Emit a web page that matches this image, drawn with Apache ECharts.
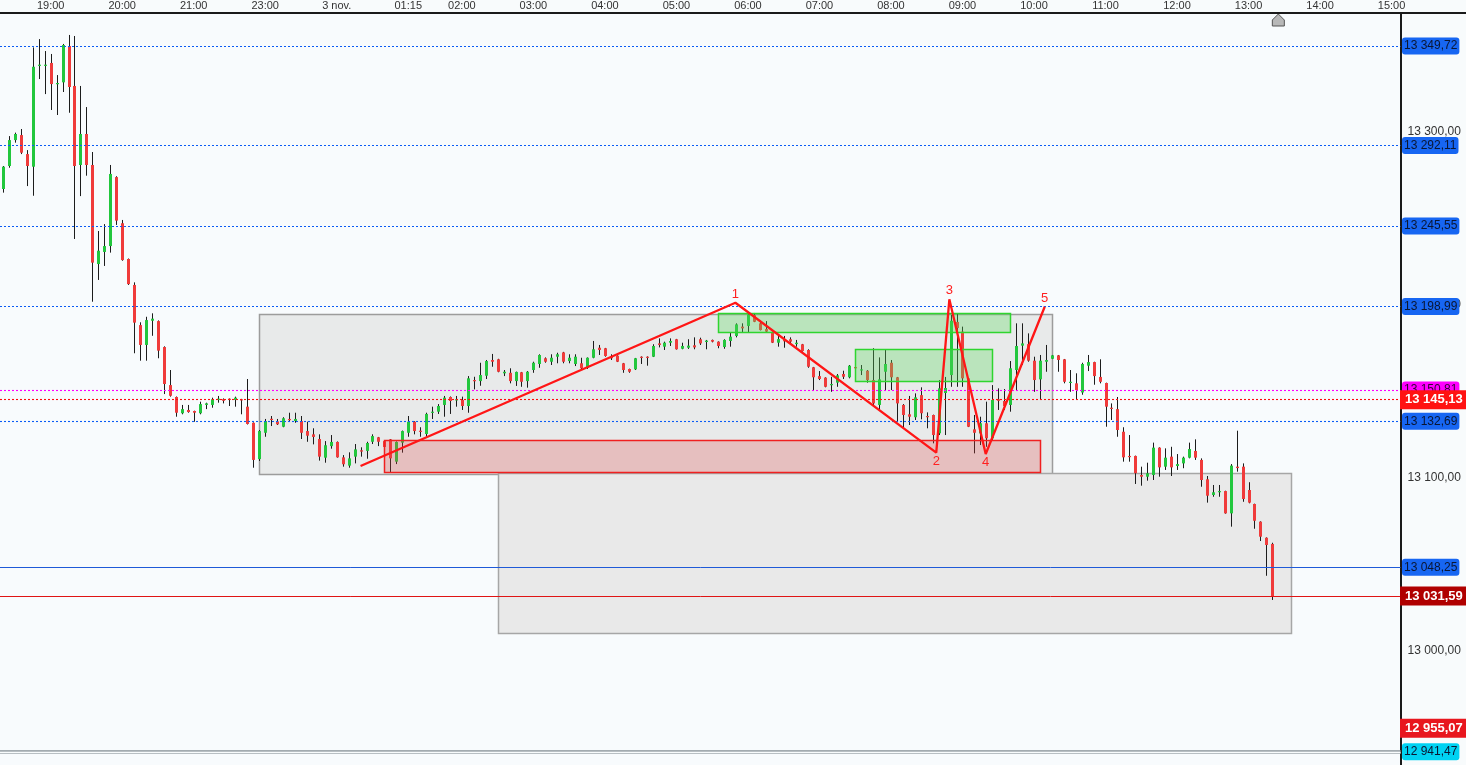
<!DOCTYPE html>
<html>
<head>
<meta charset="utf-8">
<script src="https://cdn.jsdelivr.net/npm/echarts@6/dist/echarts.min.js"></script>
<style>
html,body{margin:0;padding:0;background:#f8fbfc;}
#chart{width:1466px;height:765px;}
</style>
</head>
<body>
<div id="chart"></div>
<script>
// ---- time axis tick labels (candle index -> label)
const tickIdx  = [8, 20, 32, 44, 56, 68, 77, 89, 101, 113, 125, 137, 149, 161, 173, 185, 197, 209, 221, 233];
const tickText = ['19:00','20:00','21:00','23:00','3 nov.','01:15','02:00','03:00','04:00','05:00','06:00','07:00','08:00','09:00','10:00','11:00','12:00','13:00','14:00','15:00'];
const slotCount = 235;

// ---- 5-minute candles: [open, close, low, high]
const ohlc = [
[13267.0,13279.9,13264.9,13280.3],[13280.3,13295.3,13279.3,13297.6],[13295.3,13298.8,13293.8,13299.6],[13298.2,13288.0,13287.2,13301.7],
[13287.2,13280.3,13268.7,13289.5],[13279.9,13337.7,13263.1,13348.9],[13338.5,13338.9,13330.6,13353.7],[13338.5,13338.9,13321.9,13346.8],
[13339.9,13327.7,13312.7,13345.1],[13327.9,13328.3,13309.8,13332.9],[13328.7,13350.3,13323.1,13350.9],[13349.7,13326.0,13311.1,13356.1],
[13326.6,13280.3,13238.1,13355.5],[13280.9,13298.8,13262.9,13326.6],[13298.8,13280.9,13274.7,13314.4],[13280.9,13224.4,13201.8,13288.4],
[13223.6,13231.3,13214.4,13242.7],[13230.6,13234.0,13222.5,13246.7],[13234.0,13275.7,13230.2,13280.9],[13273.9,13248.7,13246.2,13274.4],
[13247.2,13225.9,13225.5,13249.1],[13226.5,13212.0,13211.5,13226.8],[13211.5,13189.7,13172.0,13213.0],[13188.3,13176.8,13167.7,13189.9],
[13176.8,13191.2,13167.7,13193.1],[13190.8,13192.0,13182.1,13195.1],[13190.6,13173.5,13169.1,13191.0],[13175.6,13154.2,13148.4,13176.0],
[13153.6,13147.4,13146.9,13162.3],[13146.7,13137.6,13135.3,13147.0],[13137.3,13139.7,13136.7,13142.1],[13139.2,13138.0,13137.6,13142.1],
[13138.6,13137.6,13132.4,13138.8],[13137.3,13142.6,13136.7,13144.0],[13142.1,13143.0,13139.7,13143.4],[13142.1,13145.4,13140.5,13146.3],
[13145.0,13145.7,13143.4,13147.3],[13145.4,13144.5,13143.0,13145.9],[13145.7,13145.0,13141.5,13145.9],[13145.0,13146.3,13141.1,13146.9],
[13145.4,13145.1,13136.7,13145.6],[13141.1,13131.1,13130.8,13157.1],[13131.8,13110.3,13105.8,13132.0],[13110.8,13127.0,13109.7,13127.6],
[13126.0,13132.8,13123.7,13134.0],[13134.1,13133.4,13129.9,13135.7],[13132.6,13130.9,13130.5,13134.0],[13129.5,13134.4,13129.2,13135.0],
[13134.0,13133.4,13132.4,13137.6],[13132.8,13134.0,13131.8,13137.6],[13132.8,13126.0,13122.4,13135.7],[13127.0,13124.3,13120.8,13132.4],
[13125.1,13123.6,13119.3,13128.6],[13122.4,13112.2,13109.9,13125.1],[13111.6,13118.8,13108.7,13121.2],[13118.3,13120.7,13116.8,13124.7],
[13120.7,13111.8,13111.6,13121.0],[13111.8,13107.8,13106.4,13113.1],[13107.0,13111.2,13105.8,13114.7],[13112.2,13116.4,13108.3,13119.5],
[13115.9,13115.1,13112.2,13117.6],[13115.5,13120.1,13111.0,13120.8],[13120.8,13124.1,13119.5,13125.1],[13123.4,13120.8,13118.3,13123.6],
[13121.2,13117.8,13117.2,13121.8],[13122.2,13111.2,13102.9,13122.4],[13109.3,13120.7,13107.9,13121.0],[13120.3,13127.0,13114.5,13127.3],
[13126.0,13132.4,13123.7,13135.7],[13132.4,13127.0,13125.1,13132.7],[13127.2,13126.6,13123.7,13129.2],[13125.3,13136.9,13123.7,13137.6],
[13137.6,13138.2,13134.0,13141.1],[13138.2,13141.5,13136.9,13142.6],[13142.1,13146.3,13135.3,13147.3],[13146.7,13144.4,13136.9,13147.0],
[13144.8,13145.4,13141.1,13147.3],[13145.0,13141.5,13139.2,13146.9],[13141.5,13157.5,13137.6,13158.8],[13156.5,13155.9,13151.1,13158.4],
[13155.9,13159.4,13153.2,13166.5],[13159.0,13167.5,13157.1,13168.1],[13168.1,13167.1,13164.2,13171.6],[13168.5,13161.3,13161.0,13168.8],
[13160.4,13161.3,13158.8,13162.3],[13160.7,13155.9,13154.6,13163.3],[13155.9,13161.2,13153.1,13161.4],[13161.0,13155.5,13152.6,13161.2],
[13155.9,13161.3,13152.1,13161.7],[13162.3,13166.5,13160.7,13167.1],[13165.8,13171.0,13163.6,13171.4],[13169.1,13167.1,13166.5,13169.6],
[13167.1,13169.4,13165.2,13171.4],[13170.0,13171.4,13166.2,13172.3],[13172.5,13167.1,13166.2,13172.8],[13167.5,13169.4,13166.2,13171.4],
[13165.8,13170.0,13164.6,13171.4],[13166.2,13163.3,13162.3,13169.4],[13163.6,13169.4,13162.9,13169.6],[13169.4,13174.3,13169.1,13179.1],
[13175.2,13173.9,13171.0,13176.8],[13174.9,13170.4,13170.0,13175.1],[13170.0,13169.1,13168.1,13171.4],[13170.6,13167.1,13166.9,13170.8],
[13166.2,13162.3,13160.7,13166.4],[13162.9,13161.3,13160.7,13163.1],[13162.7,13169.1,13162.3,13169.3],[13170.0,13169.6,13165.8,13170.2],
[13170.0,13169.6,13164.8,13170.2],[13170.0,13176.2,13169.8,13177.2],[13177.7,13176.8,13175.4,13180.6],[13175.8,13178.1,13173.9,13178.7],
[13178.1,13179.1,13176.2,13180.6],[13180.1,13174.3,13174.1,13180.3],[13174.6,13176.2,13174.3,13178.1],[13175.2,13176.4,13174.5,13180.1],
[13176.6,13175.4,13174.3,13181.2],[13180.1,13177.7,13176.8,13181.0],[13178.5,13179.3,13174.3,13179.7],[13179.7,13178.7,13178.3,13179.9],
[13178.7,13176.2,13174.9,13178.9],[13175.6,13179.7,13174.6,13180.1],[13179.1,13181.6,13175.8,13183.9],[13182.0,13188.7,13181.2,13189.3],
[13187.4,13186.4,13184.1,13189.3],[13187.8,13194.5,13184.1,13195.1],[13194.1,13190.2,13190.0,13195.3],[13189.3,13185.4,13185.2,13190.8],
[13186.0,13184.5,13184.1,13190.6],[13183.9,13178.1,13177.9,13184.5],[13178.1,13180.2,13175.8,13183.0],[13180.1,13178.9,13175.2,13182.0],
[13180.1,13178.7,13177.7,13181.2],[13177.3,13178.1,13175.8,13179.7],[13177.2,13173.3,13172.9,13177.4],[13173.9,13164.2,13163.6,13174.3],
[13163.9,13158.1,13150.7,13164.1],[13158.8,13157.1,13156.5,13161.7],[13157.9,13152.6,13152.3,13158.1],[13153.6,13154.2,13149.7,13158.4],
[13155.0,13159.2,13152.6,13160.0],[13160.0,13158.4,13157.1,13161.9],[13158.1,13164.8,13157.5,13165.2],[13164.0,13163.6,13163.4,13164.2],
[13162.3,13162.7,13159.4,13165.2],[13161.9,13156.5,13155.0,13162.3],[13156.5,13143.0,13141.1,13174.9],[13142.1,13156.9,13139.2,13169.6],
[13161.3,13165.8,13150.7,13173.9],[13166.5,13158.1,13150.7,13168.1],[13158.1,13143.0,13132.4,13158.3],[13142.1,13136.3,13128.6,13142.6],
[13136.7,13135.3,13130.5,13147.3],[13135.0,13146.5,13133.4,13148.8],[13147.8,13137.3,13133.8,13152.3],[13135.7,13135.0,13128.6,13137.8],
[13136.3,13124.7,13119.9,13136.5],[13125.7,13151.7,13124.7,13156.5],[13149.0,13151.9,13124.7,13158.3],[13159.4,13190.8,13152.6,13194.1],
[13190.1,13186.6,13152.6,13195.1],[13184.5,13157.5,13152.6,13187.4],[13157.5,13129.5,13129.3,13157.7],[13128.0,13126.0,13114.1,13136.3],
[13125.7,13131.5,13118.9,13135.3],[13131.5,13122.8,13117.9,13144.0],[13122.8,13145.0,13121.8,13153.6],[13145.4,13144.5,13139.2,13151.7],
[13144.4,13141.5,13139.2,13151.3],[13142.1,13163.3,13138.2,13167.5],[13162.3,13176.2,13150.7,13189.3],[13176.4,13177.7,13165.2,13189.3],
[13177.3,13167.7,13167.1,13183.5],[13167.7,13156.5,13149.7,13170.0],[13156.9,13167.7,13145.0,13171.0],[13167.1,13168.1,13161.3,13176.8],
[13168.8,13170.8,13168.6,13171.0],[13170.8,13168.1,13161.3,13171.0],[13168.5,13155.5,13154.6,13168.7],[13155.0,13155.5,13149.7,13162.3],
[13154.6,13150.7,13145.0,13160.4],[13149.3,13165.8,13148.0,13166.5],[13164.8,13166.9,13161.7,13171.0],[13166.9,13158.8,13153.8,13167.1],
[13158.3,13155.5,13154.6,13168.5],[13154.8,13141.1,13129.5,13155.0],[13140.5,13139.9,13133.4,13143.0],[13139.7,13127.6,13123.7,13146.7],
[13126.6,13111.8,13109.3,13129.2],[13112.6,13112.2,13109.3,13124.7],[13112.6,13102.6,13096.4,13112.8],[13101.6,13100.6,13095.4,13106.4],
[13100.6,13102.6,13098.3,13108.7],[13101.6,13117.4,13098.7,13120.3],[13117.4,13106.0,13100.6,13117.6],[13106.4,13111.6,13104.5,13117.0],
[13112.2,13106.0,13101.0,13117.9],[13106.8,13107.9,13104.5,13113.7],[13108.3,13111.6,13105.5,13112.2],[13111.6,13116.6,13111.2,13120.3],
[13115.5,13111.6,13110.3,13122.2],[13110.3,13098.7,13094.8,13111.2],[13099.1,13089.6,13085.6,13101.0],[13090.0,13091.6,13089.0,13095.8],
[13091.7,13092.3,13089.0,13095.8],[13092.3,13079.4,13079.2,13092.5],[13079.4,13107.0,13071.7,13107.9],[13106.4,13105.6,13103.5,13127.2],
[13106.4,13087.7,13086.1,13108.3],[13092.9,13085.6,13085.2,13097.4],[13084.8,13075.1,13070.5,13085.0],[13074.6,13065.9,13063.4,13074.8],
[13065.3,13061.1,13043.3,13065.5],[13061.7,13031.59,13029.3,13062.4]
];

// ---- horizontal price levels
const levelPrice = [13349.72, 13292.11, 13245.55, 13198.99, 13150.81, 13145.13, 13132.69, 13048.25, 13031.59, 12955.07, 12941.47];
const levelKind  = ['pivot','pivot','pivot','pivot','magenta','last','pivot','support','close','low','cyan'];

// ---- zones: [fromIndex, toIndex, topPrice, bottomPrice]
const zoneGray  = [[43, 176, 13194.7, 13102.2], [83, 216, 13102.7, 13010.2]];
const zoneColor = [[64, 174, 13121.8, 13103.3], [120, 169, 13195.3, 13184.3], [143, 166, 13174.5, 13155.9]];
const zoneColorKind = ['red', 'green', 'green'];

// ---- Elliott wave count
const waveIdx   = [60, 122.9, 156.6, 158.8, 164.9, 174.8];
const wavePrice = [13106.8, 13201.2, 13114.5, 13203.2, 13113.7, 13198.9];
const waveLabel = ['', '1', '2', '3', '4', '5'];

const yMin = 12933.85, yMax = 13368.8;
const FONT = 'Liberation Sans, Arial, sans-serif';

function fmtPrice(v){
  const s = Number(v).toFixed(2).split('.');
  return s[0].replace(/\B(?=(\d{3})+(?!\d))/g, ' ') + ',' + s[1];
}

const kindStyle = {
  pivot:   {line:{color:'#0b5cf5', type:[2,2], width:1.1}, label:{backgroundColor:'#1766f2', color:'#0a1633', fontWeight:'normal', fontSize:12, padding:[2,2,1,2], borderRadius:3, distance:1.5}},
  magenta: {line:{color:'#ff00ff', type:[2,2], width:1.1}, label:{backgroundColor:'#ff00ff', color:'#330033', fontWeight:'normal', fontSize:12, padding:[2,2,1,2], borderRadius:3, distance:1.5}},
  last:    {line:{color:'#ff0a0a', type:[2,2], width:1.1}, label:{backgroundColor:'#ff1212', color:'#ffffff', fontWeight:'bold', fontSize:13, padding:[3,5,2,5], borderRadius:0, distance:-0.5}},
  support: {line:{color:'#1f5ad8', type:'solid', width:1}, label:{backgroundColor:'#1766f2', color:'#0a1633', fontWeight:'normal', fontSize:12, padding:[2,2,1,2], borderRadius:3, distance:1.5}},
  close:   {line:{color:'#e01414', type:'solid', width:1}, label:{backgroundColor:'#b00000', color:'#ffffff', fontWeight:'bold', fontSize:13, padding:[3,5,2,5], borderRadius:0, distance:-0.5}},
  low:     {line:{color:'transparent', type:'solid', width:0}, label:{backgroundColor:'#e8161e', color:'#ffffff', fontWeight:'bold', fontSize:13, padding:[3,5,2,5], borderRadius:0, distance:-0.5}},
  cyan:    {line:{color:'#a3abb0', type:'solid', width:4}, label:{backgroundColor:'#00d2f2', color:'#0a1633', fontWeight:'normal', fontSize:12, padding:[2,2,1,2], borderRadius:3, distance:1.5}}
};

const markLineData = [];
levelPrice.forEach((p, i) => {
  const st = kindStyle[levelKind[i]];
  markLineData.push({
    yAxis: p,
    lineStyle: st.line,
    label: Object.assign({show:true, position:'end', fontFamily:FONT, lineHeight:14, formatter: () => fmtPrice(p)}, st.label)
  });
  if (levelKind[i] === 'cyan') {
    markLineData.push({yAxis: p, lineStyle:{color:'#f8fbfc', width:1.4, type:'solid'}, label:{show:false}});
  }
});

const zoneStyleGray = [
  {fill:'#e8eaea', stroke:'#9c9c9c'},
  {fill:'#e9e9e9', stroke:'#a6a6a6'}
];
const zoneStyleColor = {
  red:   {fill:'rgba(226,70,70,0.26)', stroke:'#f02020'},
  green: {fill:'rgba(90,215,90,0.32)', stroke:'#2fd52f'}
};

function zoneRenderer(styleFor){
  return function(params, api){
    const x0 = api.value(0), x1 = api.value(1), top = api.value(2), bot = api.value(3);
    const p0 = api.coord([x0, top]);
    const p1 = api.coord([x1, bot]);
    const st = styleFor(params.dataIndex);
    return {
      type: 'rect',
      shape: {x: Math.round(p0[0]) + 0.5, y: Math.round(p0[1]) + 0.5, width: Math.round(p1[0] - p0[0]), height: Math.round(p1[1] - p0[1])},
      style: {fill: st.fill, stroke: st.stroke, lineWidth: 1.5}
    };
  };
}

function candleRenderer(params, api){
  const i = api.value(0), o = api.value(1), c = api.value(2), l = api.value(3), h = api.value(4);
  const pO = api.coord([i, o]), pC = api.coord([i, c]);
  const pL = api.coord([i, l]), pH = api.coord([i, h]);
  const band = api.size([1, 0])[0];
  const bw = Math.max(2, Math.round(band * 0.55));
  const xc = Math.round(pO[0]);
  const top = Math.min(pO[1], pC[1]);
  const bh = Math.max(1.2, Math.abs(pO[1] - pC[1]));
  const up = c >= o;
  return {
    type: 'group',
    children: [
      {type:'line', shape:{x1: xc + 0.5, y1: pH[1], x2: xc + 0.5, y2: pL[1]}, style:{stroke:'#1c1c1c', lineWidth:1}},
      {type:'rect', shape:{x: xc + 0.5 - bw / 2, y: top, width: bw, height: bh}, style:{fill: up ? '#22c73d' : '#f03b3b'}}
    ]
  };
}

const chart = echarts.init(document.getElementById('chart'), null, {renderer:'canvas'});

const option = {
  animation: false,
  backgroundColor: '#f8fbfc',
  grid: {left: -1.5, right: 65.5, top: 13, bottom: 0, show: true, backgroundColor: '#f8fbfd', borderWidth: 0},
  xAxis: {
    type: 'value', position: 'top', min: -0.5, max: slotCount - 0.5,
    axisLine: {show: true, onZero: false, lineStyle: {color: '#1a1a1a', width: 2}},
    axisTick: {show: false},
    splitLine: {show: false},
    axisLabel: {
      customValues: tickIdx,
      formatter: v => { const k = tickIdx.indexOf(Math.round(v)); return k >= 0 ? tickText[k] : ''; },
      color: '#333', fontSize: 11, fontFamily: FONT, margin: 2
    }
  },
  yAxis: {
    type: 'value', position: 'right', min: yMin, max: yMax, scale: true,
    axisLine: {show: true, onZero: false, lineStyle: {color: '#1a1a1a', width: 2}},
    axisTick: {show: false},
    splitLine: {show: false},
    axisLabel: {
      customValues: [13000, 13100, 13200, 13300],
      formatter: v => fmtPrice(v),
      color: '#333', fontSize: 12, fontFamily: FONT, margin: 7
    }
  },
  series: [
    {
      type: 'custom', name: 'zonesGray', z: 1, clip: true,
      renderItem: zoneRenderer(i => zoneStyleGray[i]),
      encode: {x: [0, 1], y: [2, 3]},
      data: zoneGray, silent: true
    },
    {
      type: 'custom', name: 'candles', z: 2, clip: true,
      renderItem: candleRenderer,
      encode: {x: 0, y: [1, 2, 3, 4]},
      data: ohlc.map((d, i) => [i, d[0], d[1], d[2], d[3]]), silent: true
    },
    {
      type: 'custom', name: 'zonesColor', z: 3, clip: true,
      renderItem: zoneRenderer(i => zoneStyleColor[zoneColorKind[i]]),
      encode: {x: [0, 1], y: [2, 3]},
      data: zoneColor, silent: true
    },
    {
      type: 'line', name: 'wave', z: 5,
      data: waveIdx.map((x, i) => ({
        value: [x, wavePrice[i]],
        label: {show: waveLabel[i] !== '', position: (i % 2 === 1) ? 'top' : 'bottom', distance: 2}
      })),
      showSymbol: true, symbol: 'circle', symbolSize: 0.01,
      lineStyle: {color: '#ff1616', width: 2.3},
      label: {color: '#ff2020', fontSize: 13, fontFamily: FONT, formatter: p => waveLabel[p.dataIndex]},
      silent: true,
      markLine: {silent: true, symbol: ['none', 'none'], precision: 2, data: markLineData, animation: false}
    }
  ]
};
chart.setOption(option);

// current-time marker below the time axis and axis-line extension
const gridRect = chart.getModel().getComponent('grid').coordinateSystem.getRect();
const mx = chart.convertToPixel({xAxisIndex: 0}, ohlc.length);
const ty = gridRect.y;
chart.setOption({
  graphic: [
    {type: 'line', shape: {x1: gridRect.x + gridRect.width, y1: ty, x2: 1466, y2: ty}, style: {stroke: '#1a1a1a', lineWidth: 2}, z: 10},
    {type: 'polygon', shape: {points: [[mx - 6, ty + 13], [mx + 6, ty + 13], [mx + 6, ty + 7], [mx, ty + 1], [mx - 6, ty + 7]]},
     style: {fill: '#b8b8b8', stroke: '#555', lineWidth: 1}, z: 10}
  ]
});
</script>
</body>
</html>
